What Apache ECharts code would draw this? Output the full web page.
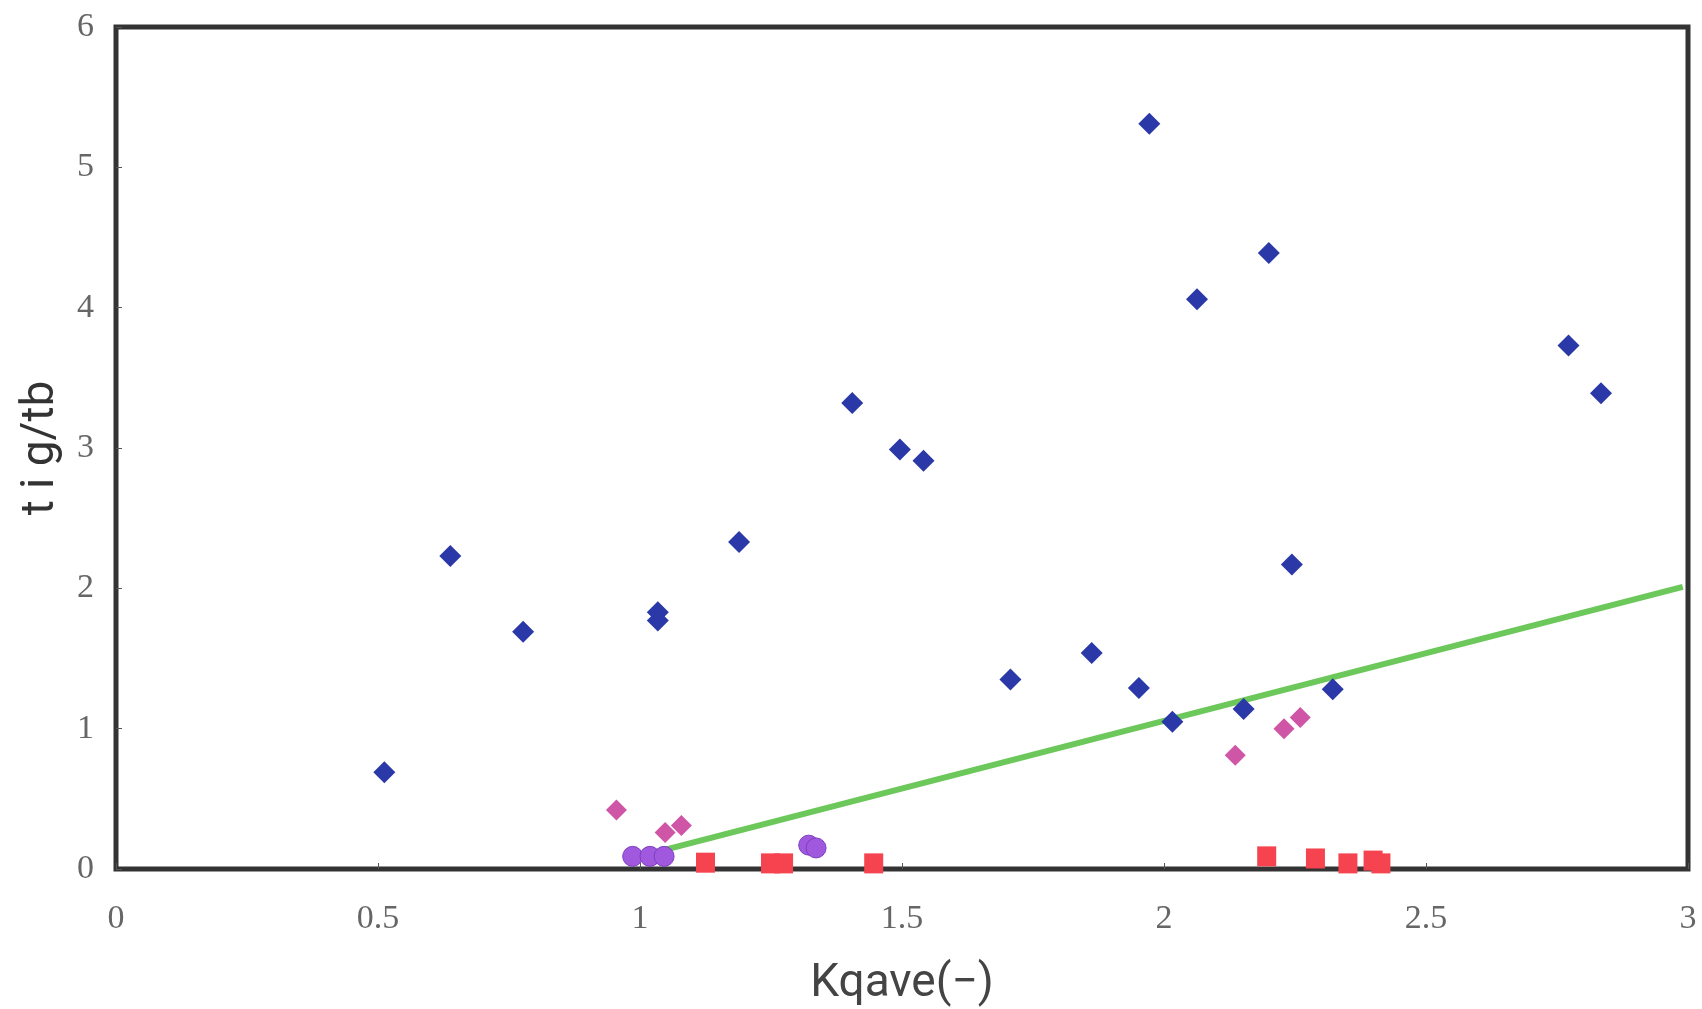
<!DOCTYPE html>
<html>
<head>
<meta charset="utf-8">
<script src="https://cdn.jsdelivr.net/npm/echarts@6/dist/echarts.min.js"></script>
<style>
  html, body { margin: 0; padding: 0; background: #fff; }
  #chart { width: 1702px; height: 1009px; }
</style>
</head>
<body>
<div id="chart"></div>
<script>
// blue diamonds
const blueX = [0.512, 0.638, 0.777, 1.034, 1.034, 1.189, 1.405, 1.496, 1.541, 1.707, 1.862, 1.952, 1.972, 2.016, 2.063, 2.152, 2.200, 2.244, 2.322, 2.772, 2.834]
const blueY = [0.69, 2.23, 1.69, 1.83, 1.77, 2.33, 3.32, 2.99, 2.91, 1.35, 1.54, 1.29, 5.31, 1.05, 4.06, 1.14, 4.39, 2.17, 1.28, 3.73, 3.39]
// pink diamonds
const pinkX = [0.955, 1.048, 1.079, 2.136, 2.229, 2.260]
const pinkY = [0.42, 0.26, 0.31, 0.81, 1.00, 1.08]
// purple circles
const purpleX = [0.986, 1.019, 1.046, 1.322, 1.336]
const purpleY = [0.09, 0.09, 0.09, 0.17, 0.15]
// red squares
const redX = [1.125, 1.249, 1.274, 1.446, 2.196, 2.289, 2.351, 2.399, 2.414]
const redY = [0.045, 0.04, 0.04, 0.04, 0.09, 0.075, 0.04, 0.06, 0.04]
// green line
const lineX = [1.03, 2.99]
const lineY = [0.12, 2.01]

const zip = (xs, ys) => xs.map((x, i) => [x, ys[i]])

const chart = echarts.init(document.getElementById('chart'))
const labelFont = '"Liberation Serif", "DejaVu Serif", serif'
chart.setOption({
    animation: false,
    backgroundColor: '#fff',
    grid: {
        left: 116, top: 27, width: 1572, height: 842,
        outerBoundsMode: 'none', containLabel: false,
        show: true, borderWidth: 5, borderColor: '#333', backgroundColor: 'transparent'
    },
    xAxis: {
        type: 'value', min: 0, max: 3, interval: 0.5,
        name: 'Kqave(−)', nameLocation: 'middle', nameGap: 92,
        nameTextStyle: { fontFamily: '"Liberation Sans Narrow", Roboto, sans-serif', fontSize: 46, color: '#444' },
        axisLine: { show: false },
        axisTick: { inside: true, length: 6, lineStyle: { color: '#555', width: 1 } },
        axisLabel: { fontFamily: labelFont, fontSize: 34, color: '#666', margin: 33 },
        splitLine: { show: false }
    },
    yAxis: {
        type: 'value', min: 0, max: 6, interval: 1,
        name: 't i g/tb', nameLocation: 'middle', nameGap: 52, nameRotate: 90,
        nameTextStyle: { fontFamily: 'Roboto, "Liberation Sans", sans-serif', fontSize: 46, color: '#333' },
        axisLine: { show: false },
        axisTick: { inside: true, length: 6, lineStyle: { color: '#555', width: 1 } },
        axisLabel: { fontFamily: labelFont, fontSize: 34, color: '#666', margin: 22 },
        splitLine: { show: false }
    },
    series: [
        {
            type: 'line', data: zip(lineX, lineY), symbol: 'none',
            lineStyle: { color: '#6cc85a', width: 6 }, z: 1
        },
        {
            type: 'scatter', data: zip(blueX, blueY), symbol: 'diamond', symbolSize: 22,
            itemStyle: { color: '#2a38a8', opacity: 1 }, z: 3
        },
        {
            type: 'scatter', data: zip(pinkX, pinkY), symbol: 'diamond', symbolSize: 21,
            itemStyle: { color: '#cf55a6', opacity: 1 }, z: 3
        },
        {
            type: 'scatter', data: zip(purpleX, purpleY), symbol: 'circle', symbolSize: 20,
            itemStyle: { color: '#a058de', borderColor: '#7c3fc0', borderWidth: 1, opacity: 1 }, z: 2
        },
        {
            type: 'scatter', data: zip(redX, redY), symbol: 'rect', symbolSize: [19, 20],
            itemStyle: { color: '#f5434f', opacity: 1 }, z: 3
        }
    ]
})
</script>
</body>
</html>
